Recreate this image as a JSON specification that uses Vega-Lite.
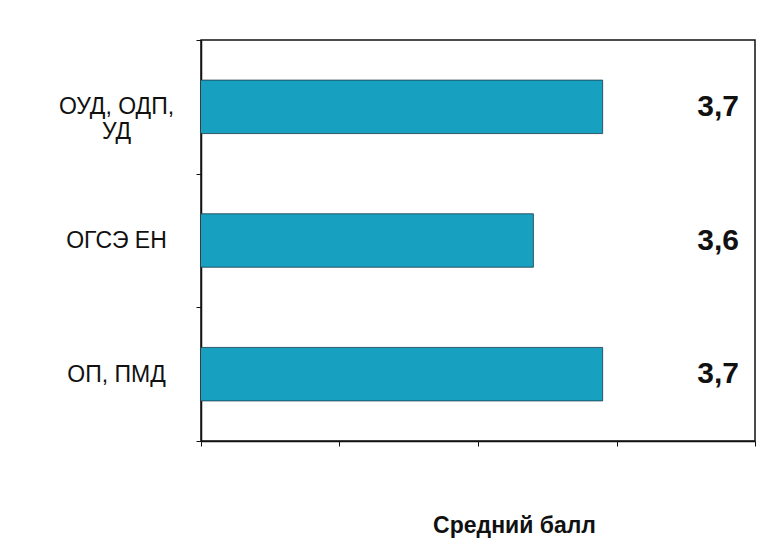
{
  "$schema": "https://vega.github.io/schema/vega-lite/v6.json",
  "autosize": {"type": "none"},
  "padding": {"left": 201, "top": 40, "right": 5, "bottom": 112},
  "width": 554,
  "height": 401,
  "background": "white",
  "config": {
    "view": {"stroke": "#111", "strokeWidth": 1.5},
    "font": "Liberation Sans"
  },
  "data": {
    "values": [
      {"group": "ОУД, ОДП, УД", "score": 3.7, "label": "3,7"},
      {"group": "ОГСЭ ЕН", "score": 3.6, "label": "3,6"},
      {"group": "ОП, ПМД", "score": 3.7, "label": "3,7"}
    ]
  },
  "encoding": {
    "y": {
      "field": "group",
      "type": "nominal",
      "sort": null,
      "scale": {"paddingInner": 0, "paddingOuter": 0},
      "axis": {
        "title": null,
        "domainColor": "#111",
        "domainWidth": 1.5,
        "tickColor": "#111",
        "tickSize": 5,
        "tickBand": "extent",
        "labelFontSize": 23,
        "labelColor": "#111",
        "labelAlign": "center",
        "labelPadding": 80,
        "labelLineHeight": 25,
        "labelExpr": "datum.label == 'ОУД, ОДП, УД' ? ['ОУД, ОДП,', 'УД'] : datum.label"
      }
    }
  },
  "layer": [
    {
      "mark": {"type": "bar", "color": "#17a0c0", "stroke": "#1a3a4a", "strokeWidth": 0.8, "clip": true, "height": {"band": 0.4}},
      "encoding": {
        "x": {
          "field": "score",
          "type": "quantitative",
          "scale": {"domain": [3.12, 3.92], "zero": false, "nice": false},
          "axis": {
            "values": [3.12, 3.32, 3.52, 3.72, 3.92],
            "labels": false,
            "grid": false,
            "domainColor": "#111",
            "domainWidth": 1.5,
            "tickColor": "#111",
            "tickSize": 5,
            "title": "Средний балл",
            "titleFontSize": 23,
            "titleFontWeight": "bold",
            "titleColor": "#111",
            "titleX": 313,
            "titleY": 84,
            "titleBaseline": "middle"
          }
        }
      }
    },
    {
      "mark": {"type": "text", "align": "right", "baseline": "middle", "fontSize": 30, "fontWeight": "bold", "color": "#111"},
      "encoding": {
        "x": {"datum": 3.897, "type": "quantitative"},
        "text": {"field": "label"}
      }
    }
  ]
}
